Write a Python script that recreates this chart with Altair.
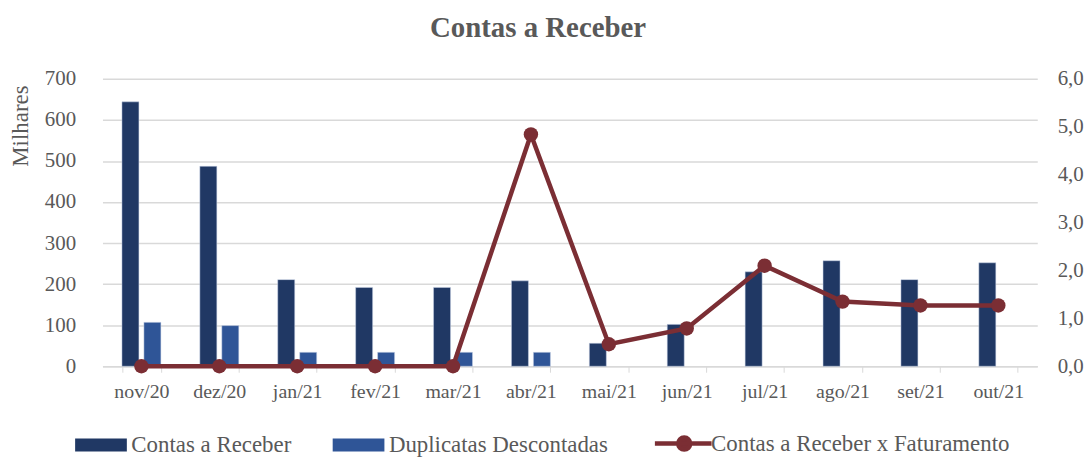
import altair as alt
import pandas as pd

meses = ["nov/20", "dez/20", "jan/21", "fev/21", "mar/21", "abr/21",
         "mai/21", "jun/21", "jul/21", "ago/21", "set/21", "out/21"]
contas_receber = [644, 487, 211, 192, 192, 208, 56, 102, 230, 257, 211, 252]
duplicatas = [107, 99, 34, 34, 34, 34, None, None, None, None, None, None]
razao = [0.0, 0.0, 0.0, 0.0, 0.0, 4.84, 0.46, 0.79, 2.10, 1.35, 1.27, 1.27]

S1 = "Contas a Receber"
S2 = "Duplicatas Descontadas"
S3 = "Contas a Receber x Faturamento"

rows = []
for m, a, b in zip(meses, contas_receber, duplicatas):
    rows.append({"mes": m, "serie": S1, "valor": a})
    if b is not None:
        rows.append({"mes": m, "serie": S2, "valor": b})
bars_df = pd.DataFrame(rows)
line_df = pd.DataFrame({"mes": meses, "razao": razao, "serie": [S3] * len(meses)})

FONT = "Liberation Serif"
GRAY = "#595959"
RED = "#7B2E34"

RECT_PATH = "M-1,-0.93H6.43V0.93H-1Z"
LINE_PATH = "M-1,0H7.14M2.35,0A0.86,0.86 0 1,0 4.07,0A0.86,0.86 0 1,0 2.35,0Z"
IS3 = f"datum.value === '{S3}'"

legend = alt.Legend(
    title=None, orient="none", legendX=-32, legendY=355, direction="horizontal",
    symbolSize=196, labelFontSize=23, labelFont=FONT, labelColor=GRAY,
    labelOffset=38, columnPadding=37, labelLimit=0, symbolOpacity=1,
    symbolType=alt.ExprRef(expr=f"{IS3} ? '{LINE_PATH}' : '{RECT_PATH}'"),
    symbolStrokeWidth=alt.ExprRef(expr=f"{IS3} ? 4.5 : 0"),
    symbolStrokeColor=alt.ExprRef(expr=f"{IS3} ? '{RED}' : 'transparent'"),
)

color_scale = alt.Scale(domain=[S1, S2, S3], range=["#203864", "#2F5597", RED])

xenc = alt.X("mes:N", sort=meses, title=None,
             scale=alt.Scale(paddingInner=0.5, paddingOuter=0.25),
             axis=alt.Axis(labelAngle=0, tickBand="extent", ticks=True, tickSize=6,
                           tickColor="#d9d9d9", domainColor="#d9d9d9", domainWidth=1.5,
                           labelPadding=9, labelFontSize=20, labelColor=GRAY,
                           labelFont=FONT, grid=False))

bars = alt.Chart(bars_df).mark_bar(stroke="#c9d3e6", strokeWidth=0.5).encode(
    x=xenc,
    xOffset=alt.XOffset("serie:N", sort=[S1, S2],
                        scale=alt.Scale(domain=[S1, S2], paddingInner=0.227, paddingOuter=0)),
    y=alt.Y("valor:Q", title="Milhares",
            scale=alt.Scale(domain=[0, 700]),
            axis=alt.Axis(values=[0, 100, 200, 300, 400, 500, 600, 700], ticks=False,
                          domain=False, labelPadding=27, labelFontSize=21,
                          labelColor=GRAY, labelFont=FONT, gridColor="#d9d9d9",
                          gridWidth=1.5, titleFontSize=23, titleFont=FONT,
                          titleColor=GRAY, titleFontWeight="normal", titlePadding=12,
                          titleY=47, titleAlign="center")),
    color=alt.Color("serie:N", scale=color_scale, legend=legend),
)

line = alt.Chart(line_df).mark_line(
    strokeWidth=4.5,
    point=alt.OverlayMarkDef(filled=True, size=210),
).encode(
    x=alt.X("mes:N", sort=meses),
    y=alt.Y("razao:Q", title=None, scale=alt.Scale(domain=[0, 6]),
            axis=alt.Axis(orient="right", values=[0, 1, 2, 3, 4, 5, 6], ticks=False,
                          domain=False, grid=False, labelPadding=20,
                          labelFontSize=21, labelColor=GRAY, labelFont=FONT,
                          labelExpr="replace(format(datum.value, '.1f'), '.', ',')")),
    color=alt.Color("serie:N", scale=color_scale, legend=legend),
)

chart = alt.layer(bars, line).resolve_scale(y="independent").properties(
    width=940, height=289,
    padding={"left": 1, "right": 0, "top": 5, "bottom": 0},
    title=alt.TitleParams("Contas a Receber", fontSize=29, font=FONT, color=GRAY,
                          fontWeight="bold", offset=25, dx=-32),
).configure_view(stroke=None)

chart.save("out.html", embed_options={"renderer": "svg", "actions": False})
